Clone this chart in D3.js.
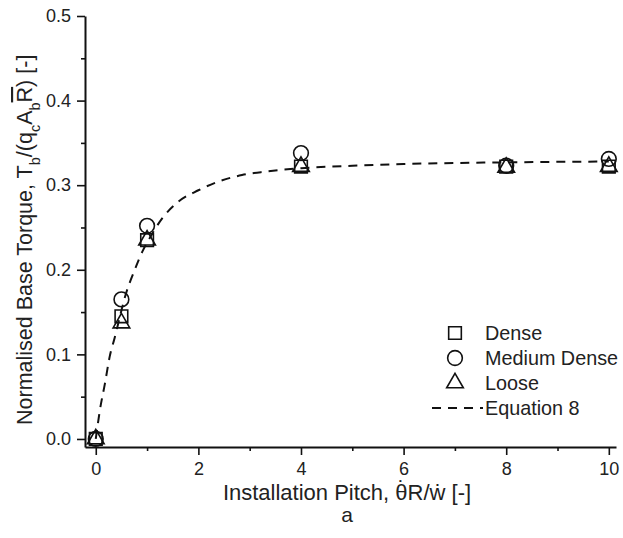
<!DOCTYPE html>
<html>
<head>
<meta charset="utf-8">
<script src="https://cdn.jsdelivr.net/npm/d3@7"></script>
<style>
  body { margin: 0; background: #fff; }
  svg text { font-family: Arial, "Liberation Sans", sans-serif; fill: #222; }
</style>
</head>
<body>
<svg id="chart" width="623" height="538"></svg>
<script>
// pitch values tested
var pitch = [0, 0.5, 1, 4, 8, 10];
// normalised base torque for each soil
var dense = [0, 0.145, 0.235, 0.322, 0.322, 0.322];
var medium = [0, 0.165, 0.252, 0.338, 0.323, 0.331];
var loose = [0, 0.137, 0.235, 0.322, 0.321, 0.322];
// equation 8 curve
var eqX = [0, 0.08, 0.18, 0.27, 0.37, 0.5, 0.57, 0.76, 0.92, 1, 1.31, 1.6, 2, 2.38, 2.85, 3.3, 4, 5, 6, 8, 10];
var eqY = [0, 0.034, 0.066, 0.097, 0.12, 0.152, 0.168, 0.2, 0.223, 0.232, 0.262, 0.28, 0.294, 0.304, 0.312, 0.316, 0.32, 0.323, 0.325, 0.327, 0.328];
var xTicks = [0, 2, 4, 6, 8, 10];
var xMinor = [1, 3, 5, 7, 9];
var yTicks = [0, 0.1, 0.2, 0.3, 0.4, 0.5];
var yMinor = [0.05, 0.15, 0.25, 0.35, 0.45];
var legendNames = ["Dense", "Medium Dense", "Loose", "Equation 8"];

var svg = d3.select("#chart");
var x = d3.scaleLinear().domain([-0.21, 10.14]).range([85, 616]);
var y = d3.scaleLinear().domain([-0.0095, 0.5]).range([447, 16]);

// axes
svg.append("g").attr("transform", "translate(0,447)")
    .call(d3.axisBottom(x).tickValues(xTicks).tickSize(8).tickSizeOuter(0).tickPadding(7).tickFormat(d3.format("d")));
svg.append("g").attr("transform", "translate(0,447)")
    .call(d3.axisBottom(x).tickValues(xMinor).tickSize(4).tickSizeOuter(0).tickFormat(""))
    .select(".domain").remove();
svg.append("g").attr("transform", "translate(85,0)")
    .call(d3.axisLeft(y).tickValues(yTicks).tickSize(8).tickSizeOuter(0).tickPadding(6).tickFormat(d3.format(".1f")));
svg.append("g").attr("transform", "translate(85,0)")
    .call(d3.axisLeft(y).tickValues(yMinor).tickSize(4).tickSizeOuter(0).tickFormat(""))
    .select(".domain").remove();
svg.selectAll(".domain").attr("stroke", "#111").attr("stroke-width", 2);
svg.selectAll(".tick line").attr("stroke", "#111").attr("stroke-width", 1.6);
svg.selectAll(".tick text").attr("font-size", 18).attr("font-family", "Arial, 'Liberation Sans', sans-serif").attr("fill", "#222");

// equation curve
var line = d3.line().x(function(d){ return x(d[0]); }).y(function(d){ return y(d[1]); }).curve(d3.curveMonotoneX);
svg.append("path")
    .datum(eqX.map(function(v, i){ return [v, eqY[i]]; }))
    .attr("d", line)
    .attr("fill", "none").attr("stroke", "#111").attr("stroke-width", 2)
    .attr("stroke-dasharray", "9,7");

// markers
var sq = d3.symbol().type(d3.symbolSquare).size(160);
var ci = d3.symbol().type(d3.symbolCircle).size(170);
var tr = d3.symbol().type(d3.symbolTriangle).size(120);
function drawSeries(vals, sym){
    svg.append("g").selectAll("path").data(vals).enter().append("path")
        .attr("d", sym)
        .attr("transform", function(d, i){ return "translate(" + x(pitch[i]) + "," + y(d) + ")"; })
        .attr("fill", "none").attr("stroke", "#111").attr("stroke-width", 1.6);
}
drawSeries(dense, sq);
drawSeries(medium, ci);
drawSeries(loose, tr);

// legend
var leg = svg.append("g");
var legY = [333, 358, 383, 408];
var syms = [sq, ci, tr];
syms.forEach(function(s, i){
    leg.append("path").attr("d", s).attr("transform", "translate(455," + legY[i] + ")")
        .attr("fill", "none").attr("stroke", "#111").attr("stroke-width", 1.6);
});
leg.append("line").attr("x1", 432).attr("x2", 483).attr("y1", legY[3]).attr("y2", legY[3])
    .attr("stroke", "#111").attr("stroke-width", 2).attr("stroke-dasharray", "9,7");
leg.selectAll("text").data(legendNames).enter().append("text")
    .attr("x", 485).attr("y", function(d, i){ return legY[i] + 7; })
    .attr("font-size", 19.8).text(function(d){ return d; });

// x title, with a dot over theta
var fs = 22;
function textW(s){
    var t = svg.append("text").attr("font-size", fs).text(s);
    var w = t.node().getComputedTextLength();
    t.remove();
    return w;
}
var wTh = textW("\u03b8"), wDot = textW("\u02d9");
var xt = svg.append("text").attr("x", 347).attr("y", 500).attr("text-anchor", "middle").attr("font-size", fs);
xt.append("tspan").text("Installation Pitch, \u03b8");
xt.append("tspan").attr("dx", -(wTh + wDot) / 2).attr("dy", -4).text("\u02d9");
xt.append("tspan").attr("dx", (wTh - wDot) / 2).attr("dy", 4).text("R/\u1e87 [-]");
svg.append("text").attr("x", 347).attr("y", 522).attr("text-anchor", "middle").attr("font-size", 21).text("a");

// y title
var yt = svg.append("text").attr("transform", "translate(32,425) rotate(-90)")
    .attr("text-anchor", "start").attr("font-size", 21.5);
yt.append("tspan").text("Normalised Base Torque, T");
yt.append("tspan").attr("baseline-shift", "sub").attr("font-size", 14.5).text("b");
yt.append("tspan").text("/(q");
yt.append("tspan").attr("baseline-shift", "sub").attr("font-size", 14.5).text("c");
yt.append("tspan").text("A");
yt.append("tspan").attr("baseline-shift", "sub").attr("font-size", 14.5).text("b");
yt.append("tspan").style("text-decoration", "overline").text("R");
yt.append("tspan").text(") [-]");
</script>
</body>
</html>
